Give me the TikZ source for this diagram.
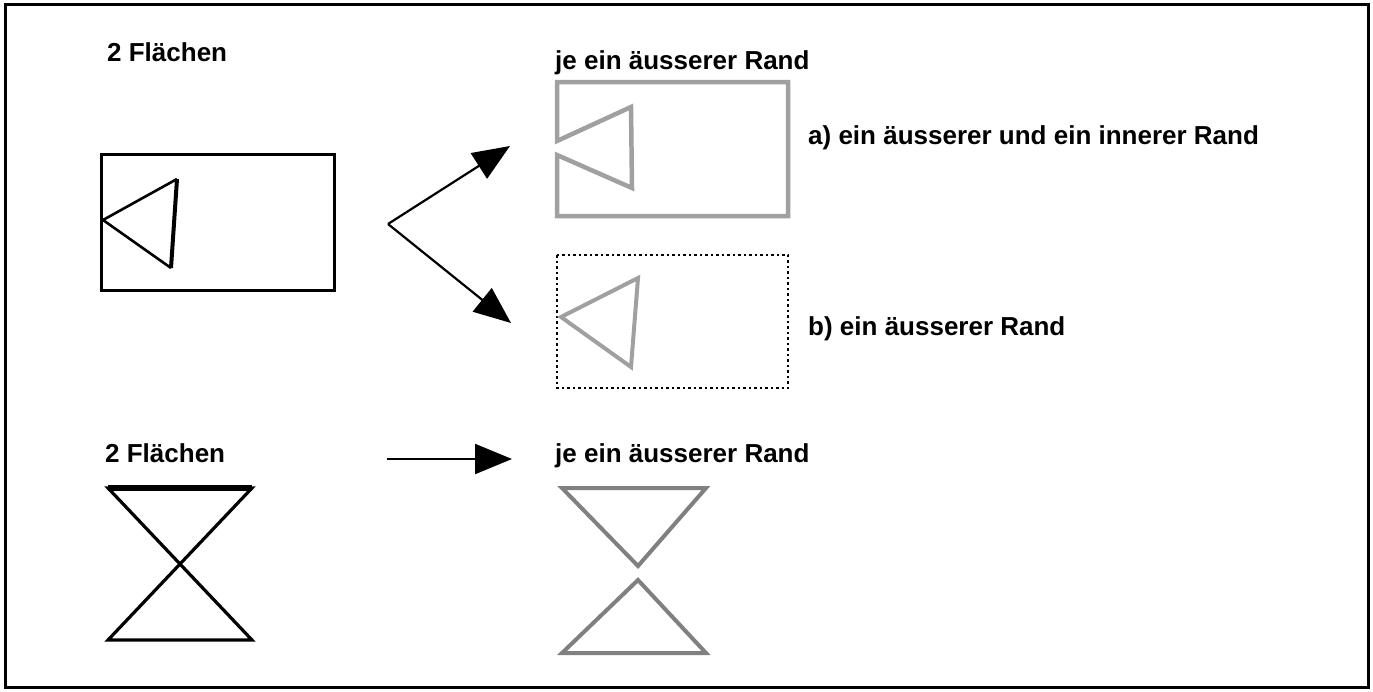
\documentclass[tikz,border=0pt]{standalone}
\usepackage{fontspec}
\setmainfont{Liberation Sans}
\usepackage{tikz}
\usetikzlibrary{arrows.meta}

\definecolor{hellgrau}{RGB}{160,160,160}
\definecolor{mittelgrau}{RGB}{128,128,128}

\begin{document}
\begin{tikzpicture}[x=1pt,y=-1pt,
    txt/.style={anchor=base west,inner sep=0pt,font=\bfseries\fontsize{26}{30}\selectfont},
    pfeil/.style={line width=2.2pt,-{Triangle[length=37pt,width=30pt]}},
    rand/.style={line width=4pt,line join=miter}]
  \useasboundingbox (0,0) rectangle (1373,691);
  \draw[line width=3pt] (5,4) rectangle (1368,687);

  % Beschriftungen
  \node[txt] (flaechenA) at (107,61) {2 Flächen};
  \node[txt] (randA)     at (555,69) {je ein äusserer Rand};
  \node[txt] (fallA)     at (808,144) {a) ein äusserer und ein innerer Rand};
  \node[txt] (fallB)     at (808,335) {b) ein äusserer Rand};
  \node[txt] (flaechenB) at (105,462) {2 Flächen};
  \node[txt] (randB)     at (555,462) {je ein äusserer Rand};

  % Rechteck mit Dreieck am Rand
  \draw[line width=3pt] (101,154) rectangle (334,290);
  \draw[line width=2.6pt,line join=miter] (171,268) -- (103,220) -- (177,179);
  \draw[line width=4pt] (177,179) -- (171,268);

  % a) Rand mit Einbuchtung
  \draw[rand,hellgrau,line width=4.5pt]
    (557,155) -- (557,216) -- (788,216) -- (788,82) -- (557,82) -- (557,141)
    -- (631,107) -- (632,188) -- cycle;

  % b) gestricheltes Rechteck, Dreieck separat
  \draw[line width=2pt,dash pattern=on 2.5pt off 3pt] (557,255) rectangle (788,388);
  \draw[rand,hellgrau] (561,317) -- (638,278) -- (631,367) -- cycle;

  % Sanduhr
  \draw[line width=3.2pt,line join=miter]
    (108,488) -- (252,488) -- (108,640) -- (252,640) -- cycle;
  \draw[line width=5.5pt] (108,488) -- (252,488);

  % zwei getrennte Dreiecke
  \draw[rand,mittelgrau] (562,488) -- (706,488) -- (638,566) -- cycle;
  \draw[rand,mittelgrau] (638,580) -- (706,653) -- (562,653) -- cycle;

  % Pfeile
  \coordinate (gabel)  at (388,224);
  \coordinate (zielA)  at (510,146);
  \coordinate (zielB)  at (511,323);
  \coordinate (startC) at (387,459);
  \coordinate (zielC)  at (512,459);
  \draw[pfeil] (gabel) -- (zielA);
  \draw[pfeil] (gabel) -- (zielB);
  \draw[pfeil] (startC) -- (zielC);
\end{tikzpicture}
\end{document}
